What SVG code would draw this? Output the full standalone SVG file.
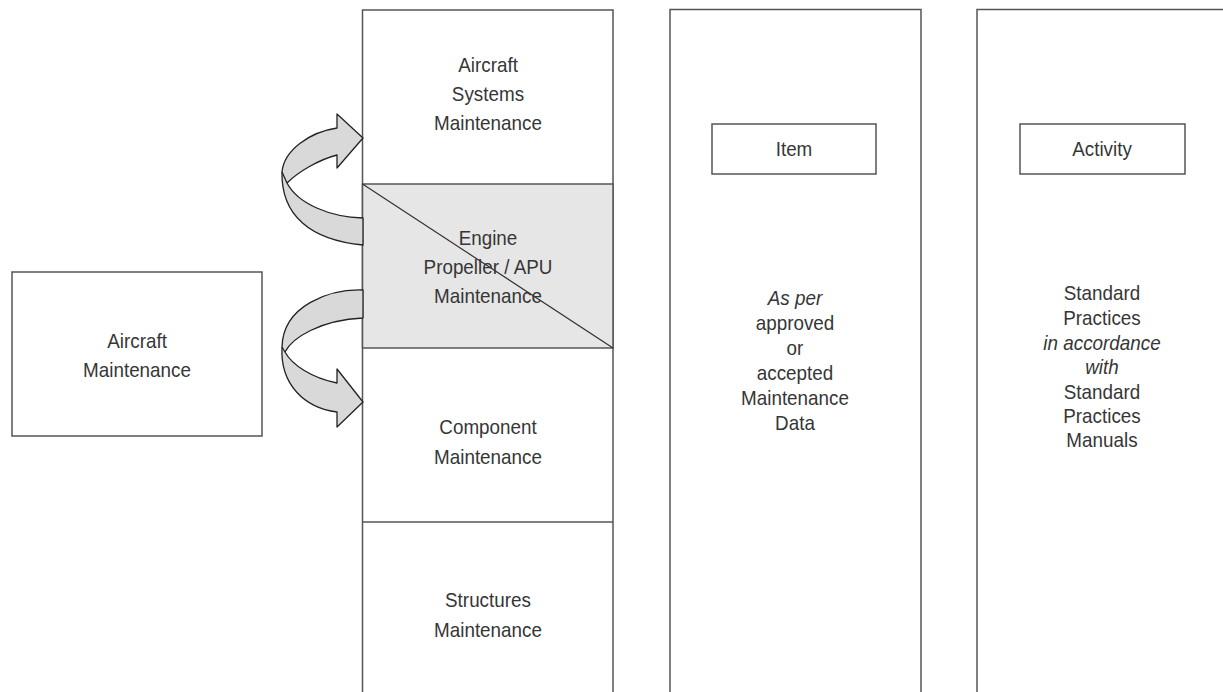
<svg xmlns="http://www.w3.org/2000/svg" width="1223" height="692" viewBox="0 0 1223 692">
  <style>
    .frame { fill: none; stroke: #555; stroke-width: 1.5; }
    .box { fill: #fff; stroke: #555; stroke-width: 1.5; }
    .shade { fill: #e6e6e6; stroke: #555; stroke-width: 1.5; }
    .diag { stroke: #333; stroke-width: 1.2; }
    .ribbon { fill: #d9d9d9; stroke: #222; stroke-width: 1.3; stroke-linejoin: round; }
    .seam { fill: none; stroke: #222; stroke-width: 1.3; }
    /* slightly condensed Arial-style lettering */
    text { font-family: "Liberation Sans", Arial, sans-serif; font-size: 20.5px; fill: #363636; text-anchor: middle;
           transform-box: fill-box; transform-origin: center; transform: scaleX(0.92); }
    .it { font-style: italic; }
  </style>
  <rect width="1223" height="692" fill="#fff"/>

  <!-- Left: overall aircraft maintenance -->
  <g id="aircraft-maintenance">
    <rect class="box" x="12" y="272" width="250" height="164"/>
    <text x="137" y="348">Aircraft</text>
    <text x="137" y="377">Maintenance</text>
  </g>

  <!-- Main column: maintenance categories -->
  <g id="category-column">
    <path class="frame" d="M362.5,692 V10 H613 V692"/>
  </g>
  <g id="aircraft-systems">
    <text x="488" y="72">Aircraft</text>
    <text x="488" y="101">Systems</text>
    <text x="488" y="130">Maintenance</text>
  </g>
  <g id="engine-propeller-apu">
    <rect class="shade" x="362.5" y="184" width="250.5" height="164"/>
    <line class="diag" x1="362.5" y1="184" x2="613" y2="348"/>
    <text x="488" y="245">Engine</text>
    <text x="488" y="274">Propeller / APU</text>
    <text x="488" y="303">Maintenance</text>
  </g>
  <g id="component">
    <line class="frame" x1="362.5" y1="522" x2="613" y2="522"/>
    <text x="488" y="434">Component</text>
    <text x="488" y="464">Maintenance</text>
  </g>
  <g id="structures">
    <text x="488" y="607">Structures</text>
    <text x="488" y="637">Maintenance</text>
  </g>

  <!-- Item column -->
  <g id="item-column">
    <path class="frame" d="M670,692 V9.5 H921 V692"/>
    <rect class="box" x="712" y="124" width="164" height="50"/>
    <text x="794" y="156">Item</text>
    <text class="it" x="795" y="305">As per</text>
    <text x="795" y="330">approved</text>
    <text x="795" y="355">or</text>
    <text x="795" y="380">accepted</text>
    <text x="795" y="405">Maintenance</text>
    <text x="795" y="430">Data</text>
  </g>

  <!-- Activity column -->
  <g id="activity-column">
    <path class="frame" d="M977,692 V9.5 H1230"/>
    <rect class="box" x="1020" y="124" width="165" height="50"/>
    <text x="1102" y="156">Activity</text>
    <text x="1102" y="300">Standard</text>
    <text x="1102" y="325">Practices</text>
    <text class="it" x="1102" y="350">in accordance</text>
    <text class="it" x="1102" y="374">with</text>
    <text x="1102" y="399">Standard</text>
    <text x="1102" y="423">Practices</text>
    <text x="1102" y="447">Manuals</text>
  </g>

  <!-- Connectors: twisted ribbon arrows -->
  <g id="connectors">
    <path class="ribbon" d="M363,218 C330,217 298,204 287,183 C298,172 318,160 337,155 L337,168 L363,138 L337,114 L337,128 C310,132 284,150 282,172 C281,215 310,240 363,245 Z"/>
    <path class="seam" d="M282,172 L287,183"/>
    <path class="ribbon" d="M363,290 C330,289 283,305 282,347 C280,385 305,408 337,412 L337,427 L363,402 L337,369 L337,383 C312,378 292,365 285,352 C292,338 320,320 363,318 Z"/>
    <path class="seam" d="M282,347 L285,352"/>
  </g>
</svg>
